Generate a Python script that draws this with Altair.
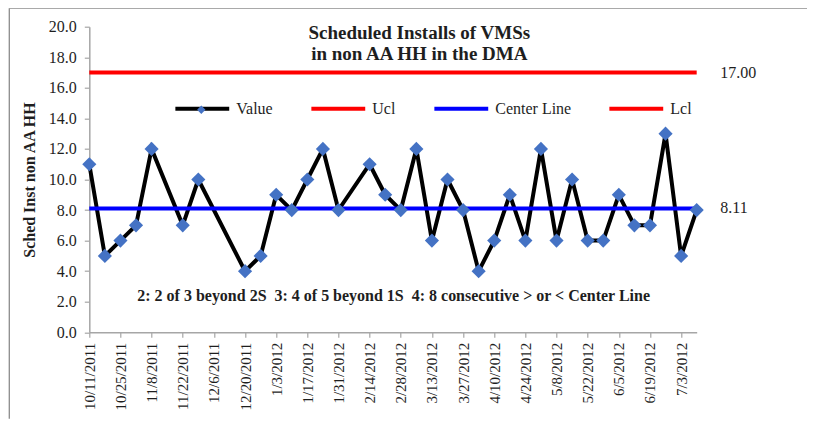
import altair as alt
import pandas as pd

# ---- data ----
dates = ["2011-10-11", "2011-10-18", "2011-10-25", "2011-11-01", "2011-11-08",
         "2011-11-22", "2011-11-29", "2011-12-20", "2011-12-27", "2012-01-03",
         "2012-01-10", "2012-01-17", "2012-01-24", "2012-01-31", "2012-02-14",
         "2012-02-21", "2012-02-28", "2012-03-06", "2012-03-13", "2012-03-20",
         "2012-03-27", "2012-04-03", "2012-04-10", "2012-04-17", "2012-04-24",
         "2012-05-01", "2012-05-08", "2012-05-15", "2012-05-22", "2012-05-29",
         "2012-06-05", "2012-06-12", "2012-06-19", "2012-06-26", "2012-07-03",
         "2012-07-10"]
values = [11, 5, 6, 7, 12, 7, 10, 4, 5, 9, 8, 10, 12, 8, 11, 9, 8, 12, 6, 10,
          8, 4, 6, 9, 6, 12, 6, 10, 6, 6, 9, 7, 7, 13, 5, 8]
ucl_value = 17.00
center_value = 8.11
series_names = ["Value", "Ucl", "Center Line", "Lcl"]
series_colors = ["#000000", "#FF0000", "#0000FF", "#FF0000"]
tick_labels = ["10/11/2011", "10/25/2011", "11/8/2011", "11/22/2011", "12/6/2011",
               "12/20/2011", "1/3/2012", "1/17/2012", "1/31/2012", "2/14/2012",
               "2/28/2012", "3/13/2012", "3/27/2012", "4/10/2012", "4/24/2012",
               "5/8/2012", "5/22/2012", "6/5/2012", "6/19/2012", "7/3/2012"]
y_ticks = [0, 2, 4, 6, 8, 10, 12, 14, 16, 18, 20]
title_lines = ["Scheduled Installs of VMSs", "in non AA HH in the DMA"]
y_title = "Sched Inst non AA HH"
note = "2: 2 of 3 beyond 2S \u00a03: 4 of 5 beyond 1S \u00a04: 8 consecutive > or < Center Line"

FONT = "Liberation Serif"
TXT = "#1e1e1e"
GRAY = "#A6A6A6"

def ms(s, fmt):
    return int(pd.Timestamp(pd.to_datetime(s, format=fmt)).value // 10**6)

tick_ms = [ms(t, "%m/%d/%Y") for t in tick_labels]
dom = [ms(dates[0], "%Y-%m-%d"), ms(dates[-1], "%Y-%m-%d")]

rows = []
for d, v in zip(dates, values):
    rows.append({"date": d, "val": v, "series": "Value"})
for d in (dates[0], dates[-1]):
    rows.append({"date": d, "val": ucl_value, "series": "Ucl"})
for d in (dates[0], dates[-1]):
    rows.append({"date": d, "val": center_value, "series": "Center Line"})
lines_df = pd.DataFrame(rows)
pts_df = pd.DataFrame({"date": dates, "val": values, "marker": ["Value"] * len(dates)})
limits_df = pd.DataFrame({"val": [ucl_value, center_value],
                          "label": [f"{ucl_value:.2f}", f"{center_value:.2f}"]})

x_enc = alt.X("date:T", title=None,
              scale=alt.Scale(type="utc", domain=dom, nice=False, padding=0),
              axis=alt.Axis(values=tick_ms,
                            labelExpr="utcFormat(datum.value, '%-m/%-d/%Y')",
                            labelAngle=-90, grid=False, tickSize=5, labelPadding=5,
                            labelFontSize=15, labelFont=FONT, labelColor=TXT,
                            domainColor=GRAY, tickColor=GRAY,
                            domainWidth=1.5, tickWidth=1.2, labelOverlap=False))
y_enc = alt.Y("val:Q", title=y_title, scale=alt.Scale(domain=[0, 20], nice=False, zero=True),
              axis=alt.Axis(values=y_ticks, format=".1f", grid=False, tickSize=5,
                            labelPadding=8, labelFontSize=16, labelFont=FONT,
                            labelColor=TXT, domainColor=GRAY, tickColor=GRAY,
                            domainWidth=1.5, tickWidth=1.2, titleFont=FONT,
                            titleFontSize=16, titleFontWeight="bold", titleColor=TXT,
                            titlePadding=11))

lines = alt.Chart(lines_df).mark_line(strokeWidth=4, clip=False).encode(
    x=x_enc, y=y_enc,
    color=alt.Color("series:N",
                    scale=alt.Scale(domain=series_names, range=series_colors),
                    legend=alt.Legend(orient="none", direction="horizontal",
                                      legendX=84, legendY=53, title=None,
                                      symbolType="stroke", symbolSize=2900,
                                      symbolStrokeWidth=4, columnPadding=30,
                                      labelOffset=5, labelFont=FONT, labelFontSize=16,
                                      labelColor=TXT, padding=0)),
)

points = alt.Chart(pts_df).mark_point(shape="diamond", filled=True, size=200,
                                      opacity=1, clip=False).encode(
    x=x_enc, y=y_enc,
    fill=alt.Fill("marker:N", scale=alt.Scale(domain=["Value"], range=["#4472C4"]),
                  legend=alt.Legend(orient="none", legendX=107, legendY=78, title=None,
                                    symbolType="diamond", symbolSize=70,
                                    symbolStrokeWidth=0, labelExpr="''", padding=0)),
)

limit_text = alt.Chart(limits_df).mark_text(align="left", baseline="middle", font=FONT,
                                            fontSize=16, color=TXT).encode(
    x=alt.value(631), y=y_enc, text="label:N")

title = alt.Chart(pd.DataFrame({"t": [0]})).mark_text(
    text=title_lines, align="center", baseline="middle", font=FONT, fontSize=19,
    fontWeight="bold", color=TXT, lineHeight=21).encode(
    x=alt.value(330), y=alt.value(6))

note_text = alt.Chart(pd.DataFrame({"t": [note]})).mark_text(
    align="left", baseline="middle", font=FONT, fontSize=16, fontWeight="bold",
    color=TXT).encode(x=alt.value(48), y=alt.value(269), text="t:N")

frame_df = pd.DataFrame({"t": [0]})
frame_top = alt.Chart(frame_df).mark_rule(color="#8c8c8c", strokeWidth=1.3).encode(
    x=alt.value(-80), x2=alt.value(760), y=alt.value(-18.5))
frame_left = alt.Chart(frame_df).mark_rule(color="#8c8c8c", strokeWidth=1.3).encode(
    x=alt.value(-80), y=alt.value(-18.5), y2=alt.value(392))

chart = alt.layer(frame_top, frame_left, lines, points, limit_text, title, note_text).properties(
    width=607.4, height=305.6,
    autosize=alt.AutoSizeParams(type="none"),
    padding={"left": 81.3, "top": 18.7, "right": 110, "bottom": 93},
).configure_view(stroke=None).resolve_scale(color="independent", fill="independent")

chart.save("out.html", embed_options={"renderer": "svg", "actions": False})
